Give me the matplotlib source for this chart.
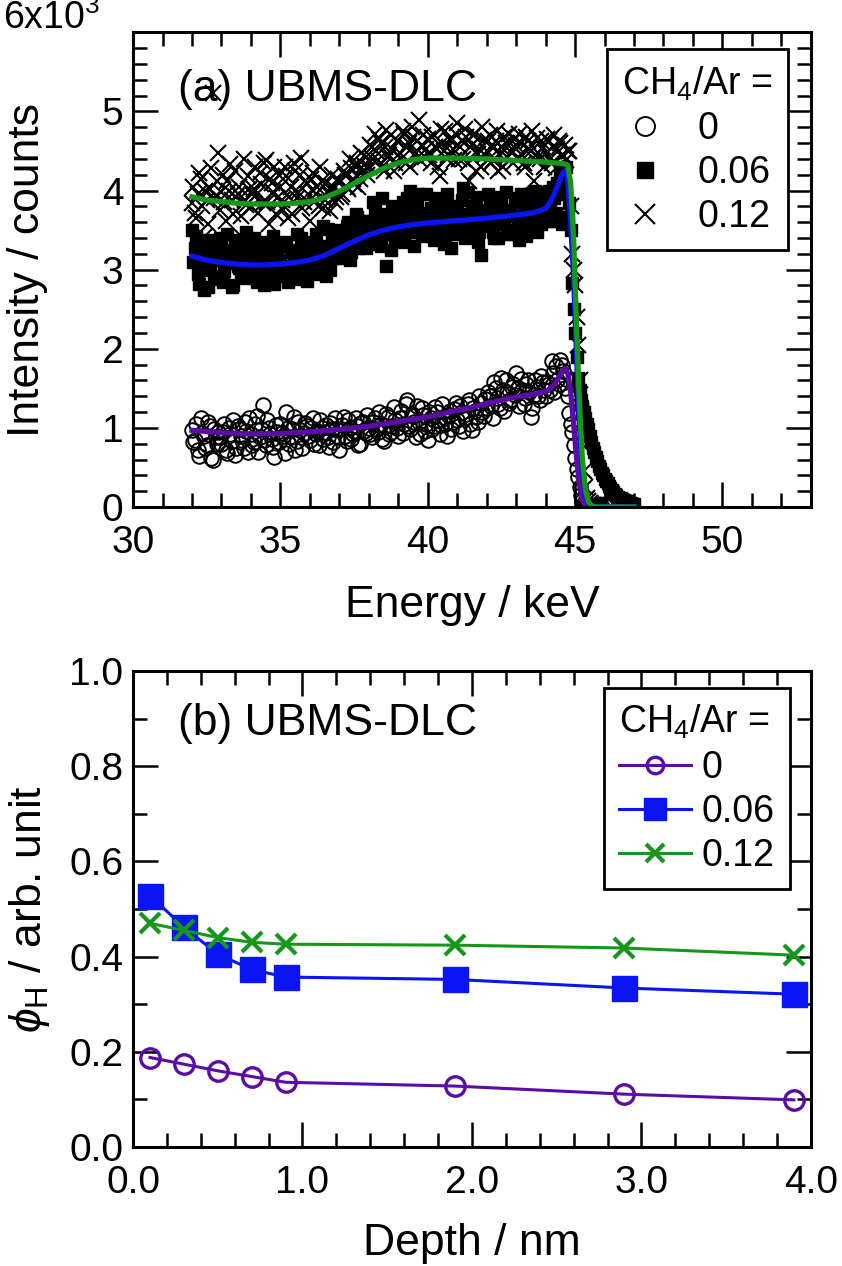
import numpy as np
import matplotlib
matplotlib.use('Agg')
import matplotlib.pyplot as plt
from matplotlib.ticker import MultipleLocator, FixedLocator

plt.rcParams['font.family'] = ['Liberation Sans', 'DejaVu Sans']
plt.rcParams['mathtext.fontset'] = 'custom'
plt.rcParams['mathtext.rm'] = 'Liberation Sans'
plt.rcParams['mathtext.it'] = 'Liberation Sans:italic'

# =========================
# (a) spectra, counts in units of 10^3
# channels: 0.1 keV from 32.00 keV, and the in-between channels from 32.05 keV
# =========================
e_start = 32.0
e_step = 0.1

counts_0 = [
    0.97, 0.85, 0.72, 1.12, 0.90, 0.78, 1.02, 0.59, 0.88, 0.95,
    0.80, 1.05, 0.68, 0.92, 1.10, 0.75, 0.98, 0.85, 1.08, 0.70,
    0.92, 0.82, 1.15, 0.88, 1.29, 0.78, 1.00, 0.86, 0.63, 0.95,
    1.05, 0.90, 1.20, 0.80, 0.98, 0.72, 1.08, 0.88, 0.94, 1.02,
    0.85, 1.12, 0.92, 0.78, 1.00, 0.95, 0.88, 1.06, 0.82, 0.98,
    0.72, 1.04, 0.90, 1.10, 0.86, 0.96, 1.02, 0.80, 1.08, 0.94,
    1.00, 0.88, 1.12, 0.95, 1.05, 0.84, 1.18, 0.92, 1.02, 1.10,
    0.90, 1.22, 1.05, 1.35, 0.98, 1.15, 0.88, 1.08, 1.25, 0.96,
    0.85, 1.12, 1.02, 1.20, 0.92, 1.30, 1.05, 1.16, 0.98, 1.24,
    1.10, 1.28, 0.96, 1.18, 1.35, 0.97, 1.22, 1.08, 1.32, 1.15,
    1.25, 1.40, 1.12, 1.50, 1.30, 1.63, 1.22, 1.45, 1.35, 1.55,
    1.69, 1.28, 1.48, 1.38, 1.60, 1.14, 1.42, 1.52, 1.35, 1.58,
    1.40, 1.55, 1.85, 1.45, 1.60, 1.86, 1.72, 1.62, 1.19, 0.95,
    0.62, 0.38, 0.15, 0.05, 0.02, 0.01, 0.01, 0.00, 0.02, 0.00,
    0.01,
]
counts_0_half = [
    0.82, 1.05, 0.65, 0.93, 0.75, 1.08, 0.62, 0.98, 0.80, 0.88,
    0.95, 0.72, 1.00, 0.83, 0.66, 1.02, 0.90, 0.74, 0.96, 1.12,
    0.78, 1.05, 0.70, 0.98, 0.85, 1.10, 0.92, 0.76, 1.04, 0.82,
    0.94, 0.68, 1.00, 0.88, 1.14, 0.83, 0.97, 0.74, 1.06, 0.90,
    1.00, 0.80, 0.96, 1.10, 0.86, 1.04, 0.76, 0.99, 1.12, 0.88,
    0.98, 1.14, 0.84, 1.00, 0.92, 1.12, 0.78, 1.06, 0.96, 1.16,
    0.92, 1.08, 0.98, 1.20, 0.86, 1.02, 1.14, 0.95, 1.26, 1.00,
    1.12, 0.94, 1.30, 1.02, 1.18, 1.08, 1.28, 0.92, 1.16, 1.05,
    1.20, 0.98, 1.26, 1.10, 1.04, 1.14, 0.90, 1.22, 1.08, 1.32,
    1.02, 1.20, 1.12, 1.30, 1.05, 1.25, 1.14, 1.40, 1.20, 1.36,
    1.45, 1.28, 1.58, 1.38, 1.25, 1.48, 1.60, 1.32, 1.52, 1.42,
    1.50, 1.62, 1.30, 1.55, 1.45, 1.25, 1.60, 1.40, 1.66, 1.48,
    1.58, 1.48, 1.70, 1.78, 1.55, 1.80, 1.50, 1.40, 1.05, 0.78,
    0.48, 0.25, 0.08, 0.03, 0.01, 0.00,
]

counts_006 = [
    3.50, 3.28, 2.95, 3.15, 2.74, 3.38, 3.05, 3.22, 2.88, 3.12,
    3.30, 2.98, 3.45, 3.08, 2.80, 3.20, 3.02, 3.35, 2.90, 3.15,
    3.05, 3.40, 2.85, 3.18, 3.00, 2.95, 3.28, 3.10, 2.82, 3.22,
    3.12, 2.92, 3.35, 3.02, 3.25, 2.88, 3.15, 3.40, 3.00, 2.86,
    3.20, 3.05, 3.45, 2.95, 3.30, 3.12, 3.52, 3.00, 3.38, 3.25,
    3.15, 3.48, 3.30, 3.60, 3.22, 3.42, 3.66, 3.35, 3.55, 3.28,
    3.62, 3.45, 3.75, 3.52, 3.30, 3.68, 3.05, 3.58, 3.80, 3.40,
    3.55, 3.72, 3.35, 3.90, 4.00, 3.48, 3.65, 3.96, 3.42, 3.62,
    3.50, 3.78, 3.38, 3.66, 3.55, 3.85, 3.44, 3.70, 3.28, 3.60,
    3.75, 3.52, 4.03, 3.62, 3.45, 3.80, 3.58, 3.35, 3.18, 3.68,
    3.55, 3.82, 3.48, 3.70, 3.40, 3.92, 3.62, 3.50, 3.75, 3.45,
    3.68, 3.38, 3.85, 3.60, 3.95, 3.52, 3.78, 3.48, 3.92, 3.65,
    3.80, 4.00, 3.62, 3.90, 4.10, 4.25, 4.15, 4.30, 3.84, 2.83,
    2.20, 1.63, 1.35, 1.20, 1.05, 0.90, 0.75, 0.63, 0.52, 0.43,
    0.36, 0.30, 0.24, 0.19, 0.15, 0.12, 0.10, 0.08, 0.06, 0.05,
    0.04,
]
counts_006_half = [
    3.10, 3.42, 2.82, 3.25, 3.00, 2.78, 3.32, 2.92, 3.18, 3.40,
    2.85, 3.12, 3.25, 2.78, 3.38, 3.05, 2.92, 3.18, 3.48, 3.00,
    3.28, 2.90, 3.15, 3.35, 2.80, 3.12, 3.02, 3.42, 3.08, 2.95,
    3.30, 3.05, 2.84, 3.22, 3.10, 3.45, 2.95, 3.18, 3.30, 3.08,
    2.98, 3.35, 3.10, 3.22, 3.55, 2.92, 3.28, 3.40, 3.15, 3.50,
    3.38, 3.25, 3.55, 3.12, 3.45, 3.70, 3.28, 3.50, 3.62, 3.40,
    3.50, 3.85, 3.32, 3.65, 3.90, 3.45, 3.70, 3.25, 3.60, 3.78,
    3.40, 3.85, 3.62, 3.48, 3.75, 3.30, 3.88, 3.55, 3.72, 3.95,
    3.68, 3.42, 3.90, 3.60, 3.75, 3.32, 3.95, 3.52, 3.80, 3.45,
    3.62, 3.88, 3.40, 3.98, 3.70, 3.55, 3.92, 3.48, 3.75, 3.60,
    3.95, 3.62, 3.40, 3.88, 3.58, 3.75, 3.98, 3.45, 3.68, 3.90,
    3.55, 3.95, 3.70, 3.42, 3.82, 3.62, 4.00, 3.75, 3.58, 3.98,
    3.62, 3.85, 4.05, 3.72, 3.95, 3.58, 4.02, 3.66, 3.50, 2.50,
    1.90, 1.48, 1.28, 1.12, 0.98, 0.82, 0.70, 0.58, 0.48, 0.40,
    0.33, 0.27, 0.22, 0.17, 0.13, 0.11, 0.09, 0.07, 0.05, 0.04,
]

counts_012 = [
    3.84, 3.72, 3.95, 4.15, 3.41, 3.88, 4.02, 5.23, 3.93, 4.47,
    3.98, 3.85, 4.12, 4.34, 3.70, 3.92, 4.05, 3.41, 3.88, 4.18,
    3.79, 4.02, 3.95, 4.22, 3.84, 4.38, 3.58, 4.10, 4.30, 3.90,
    4.05, 3.76, 4.18, 3.92, 3.70, 4.25, 3.98, 4.41, 3.85, 4.08,
    3.62, 4.22, 3.95, 3.80, 4.12, 3.88, 4.00, 3.74, 4.05, 3.92,
    4.10, 3.95, 4.20, 4.02, 4.28, 4.08, 4.35, 4.15, 4.25, 4.42,
    4.30, 4.55, 4.72, 4.38, 4.60, 4.25, 4.76, 4.45, 4.52, 4.35,
    4.62, 4.40, 4.72, 4.55, 4.30, 4.68, 4.48, 4.89, 4.58, 4.42,
    4.65, 4.35, 4.70, 4.52, 4.18, 4.60, 4.75, 4.45, 4.62, 4.38,
    4.85, 4.55, 4.40, 4.68, 4.12, 4.58, 4.72, 4.46, 4.30, 4.64,
    4.50, 4.70, 4.38, 4.62, 4.25, 4.55, 4.68, 4.42, 4.60, 4.35,
    4.58, 4.72, 4.45, 4.30, 4.62, 4.50, 4.12, 4.66, 4.40, 4.55,
    4.48, 4.62, 4.35, 4.70, 4.52, 4.60, 4.45, 4.38, 4.50, 3.20,
    2.80, 2.05, 1.20, 0.45, 0.12, 0.05, 0.03, 0.02, 0.02, 0.01,
]
counts_012_half = [
    4.05, 3.65, 4.22, 3.80, 4.00, 3.58, 4.28, 3.90, 4.12, 3.75,
    4.20, 3.62, 4.00, 3.88, 4.25, 3.95, 3.68, 4.40, 3.82, 4.02,
    3.95, 4.30, 3.72, 4.08, 4.35, 3.85, 4.15, 3.98, 3.70, 4.20,
    3.88, 4.30, 3.65, 4.05, 4.35, 3.90, 4.20, 3.78, 4.12, 3.95,
    4.15, 3.85, 4.05, 4.30, 3.78, 4.10, 3.95, 4.20, 3.85, 4.15,
    3.92, 4.25, 4.05, 4.40, 4.15, 4.30, 4.05, 4.48, 4.32, 4.20,
    4.58, 4.40, 4.50, 4.65, 4.30, 4.55, 4.42, 4.70, 4.25, 4.62,
    4.48, 4.75, 4.35, 4.60, 4.80, 4.45, 4.62, 4.38, 4.70, 4.52,
    4.45, 4.68, 4.55, 4.30, 4.78, 4.50, 4.40, 4.65, 4.52, 4.72,
    4.40, 4.62, 4.78, 4.35, 4.55, 4.70, 4.25, 4.52, 4.80, 4.45,
    4.62, 4.35, 4.55, 4.75, 4.45, 4.30, 4.60, 4.72, 4.48, 4.65,
    4.42, 4.60, 4.35, 4.68, 4.52, 4.75, 4.38, 4.48, 4.62, 4.30,
    4.65, 4.40, 4.55, 4.28, 4.62, 4.45, 4.58, 4.50, 3.80, 3.00,
    2.40, 1.60, 0.80, 0.25, 0.08, 0.04, 0.02, 0.02, 0.01,
]

# fitted curves (knots)
fit_0_e = [32.0, 32.5, 33.0, 33.5, 34.0, 34.5, 35.0, 35.5, 36.0, 36.5, 37.0, 37.5,
           38.0, 38.5, 39.0, 39.5, 40.0, 40.5, 41.0, 41.5, 42.0, 42.5, 43.0, 43.5,
           43.8, 44.1, 44.3, 44.45, 44.6, 44.68, 44.76, 44.85, 44.95, 45.05, 45.15,
           45.25, 45.35, 45.45, 47.0]
fit_0_v = [0.97, 0.955, 0.94, 0.93, 0.925, 0.925, 0.93, 0.94, 0.95, 0.965, 0.98, 1.0,
           1.02, 1.05, 1.08, 1.11, 1.14, 1.18, 1.22, 1.26, 1.31, 1.35, 1.39, 1.42,
           1.44, 1.48, 1.55, 1.64, 1.73, 1.75, 1.68, 1.45, 1.05, 0.62, 0.28,
           0.09, 0.02, 0.0, 0.0]

fit_006_e = [32.0, 32.5, 33.0, 33.5, 34.0, 34.5, 35.0, 35.5, 36.0, 36.5, 37.0, 37.5,
             38.0, 38.5, 39.0, 39.5, 40.0, 41.0, 42.0, 43.0, 43.6, 44.0, 44.2, 44.4,
             44.55, 44.65, 44.75, 44.85, 44.95, 45.05, 45.15, 45.25, 45.35, 45.45,
             45.55, 47.0]
fit_006_v = [3.17, 3.12, 3.09, 3.07, 3.06, 3.06, 3.07, 3.09, 3.12, 3.18, 3.27, 3.36,
             3.44, 3.50, 3.54, 3.57, 3.59, 3.62, 3.65, 3.69, 3.72, 3.77, 3.88, 4.05,
             4.20, 4.25, 4.15, 3.60, 2.90, 1.90, 1.00, 0.45, 0.15, 0.04,
             0.0, 0.0]

fit_012_e = [32.0, 32.5, 33.0, 33.5, 34.0, 34.5, 35.0, 35.5, 36.0, 36.5, 37.0, 37.5,
             38.0, 38.5, 39.0, 39.5, 40.0, 41.0, 42.0, 43.0, 44.0, 44.6, 44.75, 44.85,
             44.95, 45.05, 45.15, 45.25, 45.35, 45.45, 45.55, 45.7, 47.0]
fit_012_v = [3.92, 3.88, 3.86, 3.84, 3.83, 3.83, 3.83, 3.84, 3.86, 3.91, 3.99, 4.09,
             4.19, 4.28, 4.35, 4.39, 4.41, 4.41, 4.40, 4.38, 4.36, 4.34, 4.32, 4.10,
             3.40, 2.30, 1.30, 0.60, 0.22, 0.07, 0.02, 0.0, 0.0]

# =========================
# (b) depth profiles
# =========================
depth = [0.1, 0.3, 0.5, 0.7, 0.9, 1.9, 2.9, 3.9]
phi_0 = [0.188, 0.174, 0.160, 0.148, 0.136, 0.128, 0.111, 0.099]
phi_006 = [0.528, 0.462, 0.405, 0.373, 0.357, 0.352, 0.334, 0.321]
phi_012 = [0.470, 0.455, 0.440, 0.430, 0.426, 0.424, 0.418, 0.403]

labels = ['0', '0.06', '0.12']
purple = '#5a0ca5'
blue = '#0a14f5'
green = '#16961a'

fs_tick = 28
fs_label = 32


def channel_energies(vals, offset=0.0):
    return np.round(e_start + offset + e_step * np.arange(len(vals)), 3)


def both(main, half):
    x = np.concatenate([channel_energies(main), channel_energies(half, 0.05)])
    y = np.concatenate([main, half])
    return x, y


def style_axes(ax):
    for s in ax.spines.values():
        s.set_linewidth(2.2)
    ax.tick_params(which='both', direction='in', top=True, right=True,
                   width=1.8, labelsize=fs_tick)
    ax.tick_params(which='major', length=18)
    ax.tick_params(which='minor', length=10)
    ax.tick_params(axis='x', pad=13)
    ax.tick_params(axis='y', pad=7)


fig = plt.figure(figsize=(8.42, 12.66), dpi=100)

# ---------- (a) ----------
ax1 = fig.add_axes([0.158, 0.5995, 0.805, 0.375])
x0, y0 = both(counts_0, counts_0_half)
x1, y1 = both(counts_006, counts_006_half)
x2, y2 = both(counts_012, counts_012_half)
h0, = ax1.plot(x0, y0, ls='none', marker='o', ms=10.5, mfc='none', mec='black',
               mew=1.4, label=labels[0])
h1, = ax1.plot(x1, y1, ls='none', marker='s', ms=8.5, mfc='black', mec='black',
               label=labels[1])
h2, = ax1.plot(x2, y2, ls='none', marker='x', ms=11, mec='black', mew=1.5,
               label=labels[2])
ax1.plot(fit_0_e, fit_0_v, color=purple, lw=3.8)
ax1.plot(fit_006_e, fit_006_v, color=blue, lw=3.8)
ax1.plot(fit_012_e, fit_012_v, color=green, lw=3.8)

ax1.set_xlim(30, 53)
ax1.set_ylim(0, 6)
ax1.xaxis.set_major_locator(MultipleLocator(5))
ax1.xaxis.set_minor_locator(MultipleLocator(1))
ax1.yaxis.set_major_locator(FixedLocator([0, 1, 2, 3, 4, 5, 6]))
ax1.yaxis.set_minor_locator(MultipleLocator(0.2))
ax1.set_yticklabels(['0', '1', '2', '3', '4', '5', ''])
style_axes(ax1)
ax1.text(-0.048, 1.03, r'6x10$^{3}$', transform=ax1.transAxes, ha='right',
         va='center', fontsize=fs_tick - 1)
ax1.text(0.066, 0.88, '(a) UBMS-DLC', transform=ax1.transAxes, ha='left',
         va='center', fontsize=fs_label)
ax1.set_xlabel('Energy / keV', fontsize=fs_label)
ax1.set_ylabel('Intensity / counts', fontsize=fs_label)
ax1.xaxis.set_label_coords(0.5, -0.164)
ax1.yaxis.set_label_coords(-0.125, 0.5)

leg1 = ax1.legend(handles=[h0, h1, h2], title=r'CH$_4$/Ar =', loc='upper right',
                  bbox_to_anchor=(0.966, 0.964), borderaxespad=0,
                  fontsize=fs_tick - 1, title_fontsize=fs_tick - 1, frameon=True,
                  fancybox=False, edgecolor='black', framealpha=1,
                  handlelength=1.2, handletextpad=0.8, labelspacing=0.22,
                  borderpad=0.4, alignment='left', markerscale=1.3)
leg1.get_frame().set_linewidth(2.0)

# ---------- (b) ----------
ax2 = fig.add_axes([0.158, 0.094, 0.805, 0.376])
ax2.plot(depth, phi_0, color=purple, lw=2.2, marker='o', ms=14, mfc='none',
         mec=purple, mew=2.4, label=labels[0])
ax2.plot(depth, phi_006, color=blue, lw=2.2, marker='s', ms=18, mfc=blue,
         mec=blue, label=labels[1])
ax2.plot(depth, phi_012, color=green, lw=2.2, marker='x', ms=15, mec=green,
         mew=3.0, label=labels[2])

ax2.set_xlim(0, 4)
ax2.set_ylim(0, 1)
ax2.xaxis.set_major_locator(MultipleLocator(1))
ax2.xaxis.set_minor_locator(MultipleLocator(0.2))
ax2.yaxis.set_major_locator(MultipleLocator(0.2))
ax2.yaxis.set_minor_locator(MultipleLocator(0.1))
ax2.xaxis.set_major_formatter(lambda v, p: f'{v:.1f}')
ax2.yaxis.set_major_formatter(lambda v, p: f'{v:.1f}')
style_axes(ax2)
ax2.text(0.066, 0.89, '(b) UBMS-DLC', transform=ax2.transAxes, ha='left',
         va='center', fontsize=fs_label)
ax2.set_xlabel('Depth / nm', fontsize=fs_label)
ax2.set_ylabel(r'$\phi_{\rm H}$ / arb. unit', fontsize=fs_label)
ax2.xaxis.set_label_coords(0.5, -0.160)
ax2.yaxis.set_label_coords(-0.12, 0.5)

leg2 = ax2.legend(title=r'CH$_4$/Ar =', loc='upper right',
                  bbox_to_anchor=(0.969, 0.964), borderaxespad=0,
                  fontsize=fs_tick - 1, title_fontsize=fs_tick - 1, frameon=True,
                  fancybox=False, edgecolor='black', framealpha=1,
                  handlelength=1.9, handletextpad=0.3, labelspacing=0.22,
                  borderpad=0.4, alignment='left', markerscale=0.85)
leg2.get_frame().set_linewidth(2.0)

fig.savefig('out.png', dpi=100)
